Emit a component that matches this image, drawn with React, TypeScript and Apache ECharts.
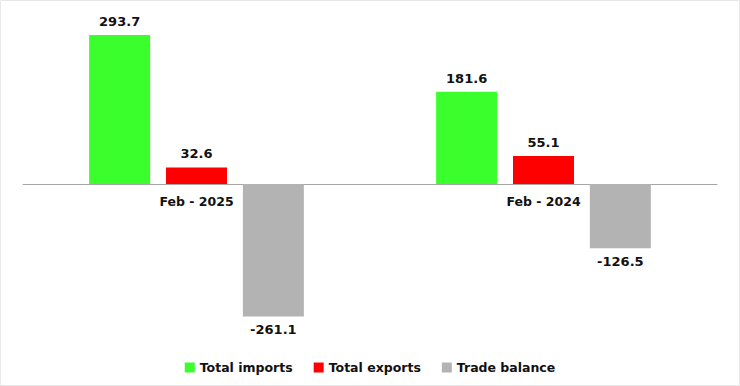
import React, { useEffect, useRef } from "react";
import * as echarts from "echarts";

const categories = ["Feb - 2025", "Feb - 2024"];
const totalImports = [293.7, 181.6];
const totalExports = [32.6, 55.1];
const tradeBalance = [-261.1, -126.5];
const seriesNames = ["Total imports", "Total exports", "Trade balance"];
const colors = ["#3bff2c", "#ff0000", "#b3b3b3"];

const FONT = "'DejaVu Sans', Verdana, sans-serif";
const Y_MIN = -300;
const Y_MAX = 300;
const GRID_TOP = 31.8;
const GRID_H = 304.4;

export default function App() {
  const ref = useRef<HTMLDivElement>(null);
  useEffect(() => {
    if (!ref.current) return;
    const chart = echarts.init(ref.current, null, { renderer: "svg" });
    const data = [totalImports, totalExports, tradeBalance];
    // distance from grid bottom to the zero line
    const zeroOffset = (GRID_H * (0 - Y_MIN)) / (Y_MAX - Y_MIN);
    chart.setOption({
      animation: false,
      backgroundColor: "#ffffff",
      grid: { left: 23, right: 23, top: GRID_TOP, height: GRID_H, containLabel: false },
      legend: {
        bottom: 7,
        left: "center",
        icon: "rect",
        itemWidth: 10,
        itemHeight: 10,
        itemGap: 21,
        textStyle: { fontFamily: FONT, fontWeight: "bold", fontSize: 12.5, color: "#111" },
        data: seriesNames,
      },
      xAxis: [
        {
          type: "category",
          data: categories,
          axisTick: { show: false },
          axisLine: { onZero: true, lineStyle: { color: "#a6a6a6", width: 1 } },
          axisLabel: { show: false },
        },
        {
          type: "category",
          data: categories,
          position: "bottom",
          offset: -zeroOffset,
          axisTick: { show: false },
          axisLine: { show: false, onZero: false },
          axisLabel: {
            margin: 11,
            color: "#111",
            fontFamily: FONT,
            fontWeight: "bold",
            fontSize: 12.5,
          },
        },
      ],
      yAxis: {
        type: "value",
        min: Y_MIN,
        max: Y_MAX,
        show: false,
        splitLine: { show: false },
      },
      series: seriesNames.map((name, i) => ({
        name,
        type: "bar",
        xAxisIndex: 0,
        data: data[i],
        barWidth: 61,
        barGap: "26%",
        itemStyle: { color: colors[i] },
        label: {
          show: true,
          position: i === 2 ? "bottom" : "top",
          distance: 7,
          color: "#111",
          fontFamily: FONT,
          fontWeight: "bold",
          fontSize: 13,
          formatter: (p: any) => p.value.toFixed(1),
        },
      })),
      graphic: [
        {
          type: "rect",
          shape: { x: 0.5, y: 0.5, width: 739, height: 385 },
          style: { fill: "none", stroke: "#e8e8e8", lineWidth: 1 },
          silent: true,
        },
      ],
    });
    return () => chart.dispose();
  }, []);
  return <div ref={ref} style={{ width: 740, height: 386, position: "fixed", left: 0, top: 0 }} />;
}
